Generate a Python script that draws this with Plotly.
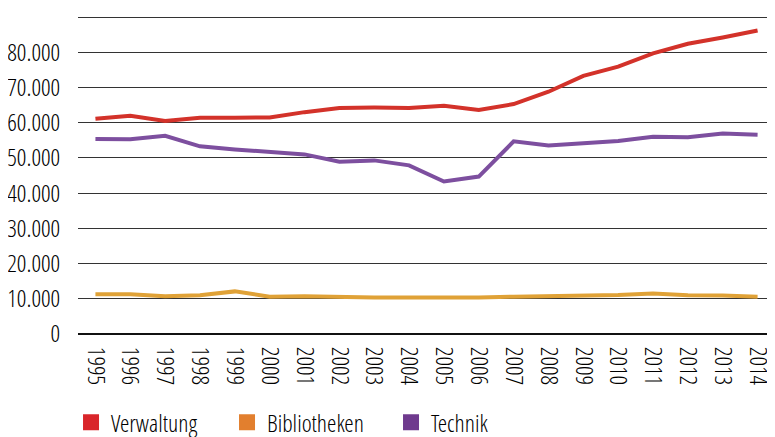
import plotly.graph_objects as go

years = [str(y) for y in range(1995, 2015)]
verwaltung = [61100, 62000, 60500, 61400, 61400, 61500, 63000, 64200, 64300, 64200,
              64800, 63600, 65300, 68800, 73300, 75900, 79700, 82400, 84200, 86200]
bibliotheken = [11300, 11300, 10700, 11000, 12100, 10600, 10700, 10500, 10400, 10400,
                10300, 10400, 10600, 10700, 10900, 11100, 11500, 11000, 10900, 10600]
technik = [55400, 55300, 56300, 53300, 52400, 51800, 51000, 48900, 49300, 47900,
           43300, 44700, 54700, 53500, 54200, 54800, 56000, 55900, 56900, 56600]
y_ticks = [0, 10000, 20000, 30000, 40000, 50000, 60000, 70000, 80000, 90000]
y_labels = ["0", "10.000", "20.000", "30.000", "40.000", "50.000",
            "60.000", "70.000", "80.000", "90.000"]

series_names = ["Verwaltung", "Bibliotheken", "Technik"]
line_colors = ["#d3322a", "#e0a237", "#7d4f9f"]
legend_colors = ["#d9252a", "#e27f2e", "#6f3a8e"]
series_values = [verwaltung, bibliotheken, technik]
legend_ids = ["legend", "legend2", "legend3"]
legend_x = [-0.010, 0.2138, 0.4491]

FONT = "Open Sans Condensed Light, DejaVu Sans Condensed, sans-serif"
TEXT = "#000000"
FS = 24

fig = go.Figure()
for name, vals, lc in zip(series_names, series_values, line_colors):
    fig.add_trace(go.Scatter(x=years, y=vals, mode="lines", name=name,
                             line=dict(color=lc, width=4), showlegend=False))
for name, c, lid in zip(series_names, legend_colors, legend_ids):
    fig.add_trace(go.Scatter(x=[None], y=[None], mode="markers", name=name,
                             marker=dict(symbol="square", size=16, color=c),
                             showlegend=True, legend=lid))

legend_common = dict(orientation="h", xanchor="left", y=-0.208, yanchor="top",
                     font=dict(family=FONT, size=FS, color=TEXT),
                     bgcolor="rgba(0,0,0,0)", itemsizing="trace")

# the page body has an 8px default margin, so the figure is sized/offset to compensate
fig.update_layout(
    width=767, height=429,
    margin=dict(l=70, r=0, t=8, b=103, autoexpand=False),
    paper_bgcolor="white", plot_bgcolor="white",
    font=dict(family=FONT, size=FS, color=TEXT, weight=400),
    showlegend=True,
    legend=dict(x=legend_x[0], **legend_common),
    legend2=dict(x=legend_x[1], **legend_common),
    legend3=dict(x=legend_x[2], **legend_common),
    xaxis=dict(type="category", tickangle=90, showgrid=False,
               ticks="outside", ticklen=7, tickcolor="white",
               showline=False, range=[-0.5, 19.5], automargin=False),
    yaxis=dict(range=[0, 90300], tickvals=y_ticks, ticktext=y_labels,
               showgrid=True, gridcolor="#333333", gridwidth=1,
               zeroline=True, zerolinecolor="#111111", zerolinewidth=1.5,
               showline=False, ticks="outside", ticklen=12, tickcolor="white",
               automargin=False),
)

fig.write_html("out.html", config={"displayModeBar": False})
